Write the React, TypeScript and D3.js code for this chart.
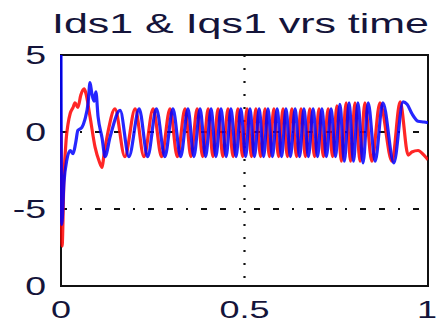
import React, { useRef, useEffect } from 'react';
import * as d3 from 'd3';

const WIDTH = 438;
const HEIGHT = 323;

// Ids1 (red): time / value at the turning points
const idsTime = [
  0, 0.003, 0.008, 0.014, 0.019, 0.025, 0.033, 0.038, 0.046, 0.054, 0.063, 0.068, 0.079, 0.093, 0.104, 0.112, 0.117, 0.128,
  0.147, 0.174, 0.202, 0.226, 0.251, 0.274, 0.297, 0.317, 0.338, 0.354,
  0.371, 0.386, 0.401, 0.414, 0.428, 0.441, 0.455, 0.469, 0.482,
  0.495, 0.507, 0.519, 0.531, 0.544, 0.556, 0.568, 0.580, 0.593, 0.605,
  0.617, 0.629, 0.642, 0.654, 0.666, 0.678, 0.691, 0.703, 0.715, 0.728,
  0.740, 0.752, 0.764, 0.777, 0.789, 0.801, 0.815, 0.828, 0.847, 0.869, 0.902, 0.924,
  0.946, 0.956, 0.973, 0.989, 1.0,
];
const idsValue = [
  0, -7.4, -3, -0.5, 0.5, 1.2, 1.6, 1.9, 1.6, 2.4, 2.8, 2.5, 1.0, -1.0, -1.9, -2.3, -1.5, 0,
  1.5, -1.6, 1.5, -1.6, 1.5, -1.6, 1.5, -1.6, 1.5, -1.6,
  1.5, -1.6, 1.5, -1.6, 1.5, -1.6, 1.5, -1.6, 1.5,
  -1.6, 1.5, -1.6, 1.5, -1.6, 1.5, -1.6, 1.5, -1.6, 1.5,
  -1.6, 1.5, -1.6, 1.5, -1.6, 1.5, -1.6, 1.5, -1.6, 1.5,
  -1.6, 1.7, -1.9, 1.9, -1.9, 1.9, -1.9, 1.9, -1.9, 1.9, -1.9, 1.95,
  -1.5, -1.3, -1.2, -1.5, -1.8,
];

// Iqs1 (blue)
const iqsTime = [
  0, 0.002, 0.008, 0.016, 0.025, 0.033, 0.040, 0.046, 0.057, 0.065, 0.074, 0.079, 0.084, 0.090, 0.095, 0.101, 0.112, 0.120, 0.134,
  0.161, 0.185, 0.213, 0.236, 0.260, 0.283, 0.305, 0.326, 0.346, 0.362,
  0.379, 0.394, 0.409, 0.422, 0.436, 0.450, 0.463, 0.477, 0.490,
  0.503, 0.515, 0.527, 0.540, 0.552, 0.564, 0.576, 0.589, 0.601, 0.613,
  0.625, 0.638, 0.650, 0.662, 0.674, 0.687, 0.699, 0.711, 0.723, 0.736,
  0.748, 0.760, 0.772, 0.785, 0.797, 0.809, 0.823, 0.837, 0.856, 0.877, 0.907, 0.932,
  0.943, 0.956, 0.973, 0.989, 1.0,
];
const iqsValue = [
  5, -6, -3.3, -1.8, -1.2, -1.4, -0.7, 0.1, 0.3, 0.8, 1.9, 3.2, 2.5, 2.0, 2.6, 1.0, -0.4, -1.6, -0.3,
  1.4, -1.6, 1.5, -1.6, 1.5, -1.6, 1.5, -1.6, 1.5, -1.6,
  1.5, -1.6, 1.5, -1.6, 1.5, -1.6, 1.5, -1.6, 1.5,
  -1.6, 1.5, -1.6, 1.5, -1.6, 1.5, -1.6, 1.5, -1.6, 1.5,
  -1.6, 1.5, -1.6, 1.5, -1.6, 1.5, -1.6, 1.5, -1.6, 1.5,
  -1.6, 1.8, -1.9, 1.9, -1.9, 1.9, -2.0, 1.9, -1.9, 1.9, -2.0, 1.95,
  1.8, 1.2, 0.7, 0.65, 0.6,
];

const xTicks = [0, 0.5, 1];
const xTickLabels = ['0', '0.5', '1'];
const yTicks = [5, 0, -5, -10];
const yTickLabels = ['5', '0', '-5', '0'];
const gridX = [0.5];
const gridY = [0, -5];

const TITLE = 'Ids1 & Iqs1 vrs time';
const TEXT_COLOR = '#14143a';

export default function App() {
  const svgRef = useRef<SVGSVGElement>(null);

  useEffect(() => {
    const svg = d3.select(svgRef.current);
    svg.selectAll('*').remove();

    const margin = { top: 55, right: 10, bottom: 37, left: 61 };
    const innerWidth = WIDTH - margin.left - margin.right;
    const innerHeight = HEIGHT - margin.top - margin.bottom;

    const x = d3.scaleLinear().domain([0, 1]).range([margin.left, margin.left + innerWidth]);
    const y = d3.scaleLinear().domain([-10, 5]).range([margin.top + innerHeight, margin.top]);

    const defs = svg.append('defs');
    defs.append('clipPath').attr('id', 'plot-clip')
      .append('rect')
      .attr('x', margin.left - 1).attr('y', margin.top)
      .attr('width', innerWidth + 1).attr('height', innerHeight);
    defs.append('filter').attr('id', 'soft')
      .attr('x', '-5%').attr('y', '-5%').attr('width', '110%').attr('height', '110%')
      .append('feGaussianBlur').attr('stdDeviation', 0.75);

    // grid
    svg.append('g').selectAll('line').data(gridX).enter().append('line')
      .attr('x1', d => x(d)).attr('x2', d => x(d))
      .attr('y1', margin.top).attr('y2', margin.top + innerHeight)
      .attr('stroke', '#111').attr('stroke-width', 2.2)
      .attr('stroke-dasharray', '2 11');
    svg.append('g').selectAll('line').data(gridY).enter().append('line')
      .attr('x1', margin.left).attr('x2', margin.left + innerWidth)
      .attr('y1', d => y(d)).attr('y2', d => y(d))
      .attr('stroke', '#111').attr('stroke-width', 1.8)
      .attr('stroke-dasharray', '6 13 2 13 6 13');

    // frame
    svg.append('rect')
      .attr('x', margin.left).attr('y', margin.top)
      .attr('width', innerWidth).attr('height', innerHeight)
      .attr('fill', 'none').attr('stroke', '#111').attr('stroke-width', 2);

    // signals
    const line = d3.line<[number, number]>()
      .x(d => x(d[0]))
      .y(d => y(d[1]))
      .curve(d3.curveMonotoneX);

    const series = [
      { color: '#ff0000', pts: idsTime.map((t, i) => [t, idsValue[i]] as [number, number]) },
      { color: '#0000ff', pts: iqsTime.map((t, i) => [t, iqsValue[i]] as [number, number]) },
    ];

    const plot = svg.append('g').attr('clip-path', 'url(#plot-clip)').attr('filter', 'url(#soft)');
    plot.selectAll('path').data(series).enter().append('path')
      .attr('d', d => line(d.pts))
      .attr('fill', 'none')
      .attr('stroke', d => d.color)
      .attr('stroke-width', 3.2)
      .attr('stroke-opacity', 0.85)
      .attr('stroke-linejoin', 'round');

    // tick labels
    const font = "'Liberation Sans', Arial, sans-serif";
    svg.append('g').selectAll('text').data(xTicks).enter().append('text')
      .attr('transform', d => `translate(${d === 1 ? x(d) - 1 : x(d)},318) scale(1.5,1)`)
      .attr('text-anchor', 'middle')
      .style('font-family', font).style('font-size', '24px')
      .style('fill', TEXT_COLOR)
      .text((d, i) => xTickLabels[i]);

    svg.append('g').selectAll('text').data(yTicks).enter().append('text')
      .attr('transform', d => `translate(46,${y(d) + 9}) scale(1.5,1)`)
      .attr('text-anchor', 'end')
      .style('font-family', font).style('font-size', '25px')
      .style('fill', TEXT_COLOR)
      .text((d, i) => yTickLabels[i]);

    // title
    svg.append('text')
      .attr('x', 52).attr('y', 33)
      .attr('textLength', 377).attr('lengthAdjust', 'spacingAndGlyphs')
      .style('font-family', font).style('font-size', '28px')
      .style('fill', TEXT_COLOR)
      .text(TITLE);
  }, []);

  return (
    <svg
      ref={svgRef}
      width={WIDTH}
      height={HEIGHT}
      viewBox={`0 0 ${WIDTH} ${HEIGHT}`}
      style={{ position: 'absolute', left: 0, top: 0, background: '#fff' }}
    />
  );
}
